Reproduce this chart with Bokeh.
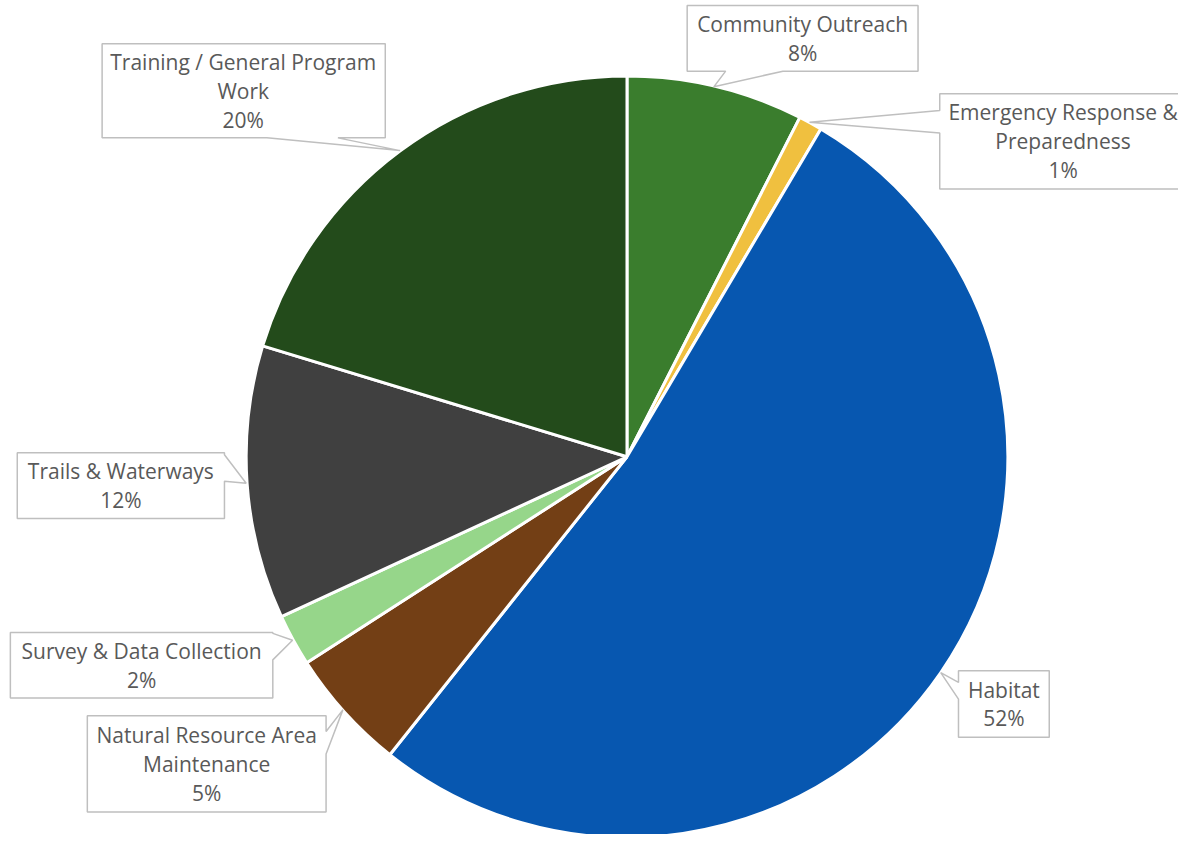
import math
from bokeh.plotting import figure
from bokeh.models import Range1d, ColumnDataSource
from bokeh.core.properties import value
from bokeh.embed import file_html
from bokeh.resources import INLINE

# ---- data ----
categories = ["Community Outreach", "Emergency Response & Preparedness", "Habitat",
              "Natural Resource Area Maintenance", "Survey & Data Collection",
              "Trails & Waterways", "Training / General Program Work"]
shares = [7.5, 1.0, 52.2, 5.2, 2.2, 11.6, 20.3]
pct_labels = ["8%", "1%", "52%", "5%", "2%", "12%", "20%"]
label_lines = [["Community Outreach"],
               ["Emergency Response &", "Preparedness"],
               ["Habitat"],
               ["Natural Resource Area", "Maintenance"],
               ["Survey & Data Collection"],
               ["Trails & Waterways"],
               ["Training / General Program", "Work"]]
colors = ["#3a7d2d", "#f0c03f", "#0757b0", "#733f15", "#96d68a", "#404040", "#234b1b"]

# ---- layout (reference-pixel coordinates, y measured from top) ----
W, H = 1178, 834
CX, CY, R = 635, 465, 386
def Y(y):
    return 850 - y

callouts = [
    dict(box=(696, 930, 5, 72), tx=813,
         poly=[(696, 5), (930, 5), (930, 72), (793, 72), (723, 88), (735, 72), (696, 72)]),
    dict(box=(952, 1200, 95, 192), tx=1077,
         poly=[(952, 95), (1200, 95), (1200, 192), (952, 192), (952, 135), (820, 124), (952, 112)]),
    dict(box=(971, 1063, 683, 751), tx=1017,
         poly=[(971, 683), (1063, 683), (1063, 751), (971, 751), (971, 712), (953, 685), (971, 695)]),
    dict(box=(88, 330, 729, 827), tx=209,
         poly=[(88, 729), (330, 729), (330, 745), (347, 723), (330, 768), (330, 827), (88, 827)]),
    dict(box=(10, 276, 644, 711), tx=143,
         poly=[(10, 644), (276, 644), (276, 645), (296, 652), (276, 672), (276, 711), (10, 711)]),
    dict(box=(17, 227, 461, 528), tx=122,
         poly=[(17, 461), (227, 461), (227, 463), (249, 492), (227, 490), (227, 528), (17, 528)]),
    dict(box=(103, 390, 44, 140), tx=246,
         poly=[(103, 44), (390, 44), (390, 140), (342, 140), (405, 153), (270, 140), (103, 140)]),
]

p = figure(width=W, height=H, output_backend="svg", toolbar_location=None,
           x_range=Range1d(0, 1194), y_range=Range1d(0, 850),
           x_axis_location=None, y_axis_location=None, min_border=0)
p.grid.visible = False
p.outline_line_color = None
p.background_fill_color = "white"

total = sum(shares)
starts, ends = [], []
cum = 0.0
for s in shares:
    a0 = math.pi / 2 - 2 * math.pi * cum / total
    cum += s
    a1 = math.pi / 2 - 2 * math.pi * cum / total
    starts.append(a1)
    ends.append(a0)

src = ColumnDataSource(dict(x=[CX] * len(shares), y=[Y(CY)] * len(shares),
                            start=starts, end=ends, color=colors, cat=categories))
p.wedge(x="x", y="y", radius=R, start_angle="start", end_angle="end",
        fill_color="color", line_color="white", line_width=3, source=src)

xs = [[pt[0] for pt in c["poly"]] for c in callouts]
ys = [[Y(pt[1]) for pt in c["poly"]] for c in callouts]
p.patches(xs, ys, fill_color="white", line_color="#bfbfbf", line_width=1.5)

tx, ty, tt = [], [], []
LH = 29.5
for c, lines, pct in zip(callouts, label_lines, pct_labels):
    x0, x1, y0, y1 = c["box"]
    all_lines = lines + [pct]
    n = len(all_lines)
    cy = (y0 + y1) / 2
    for i, t in enumerate(all_lines):
        tx.append(c["tx"])
        ty.append(Y(cy + (i - (n - 1) / 2) * LH))
        tt.append(t)
p.text(x=tx, y=ty, text=tt, text_align="center", text_baseline="middle",
       text_font=value("Open Sans"), text_font_size="21px", text_color="#595959")

open("out.html", "w").write(file_html(p, INLINE))
